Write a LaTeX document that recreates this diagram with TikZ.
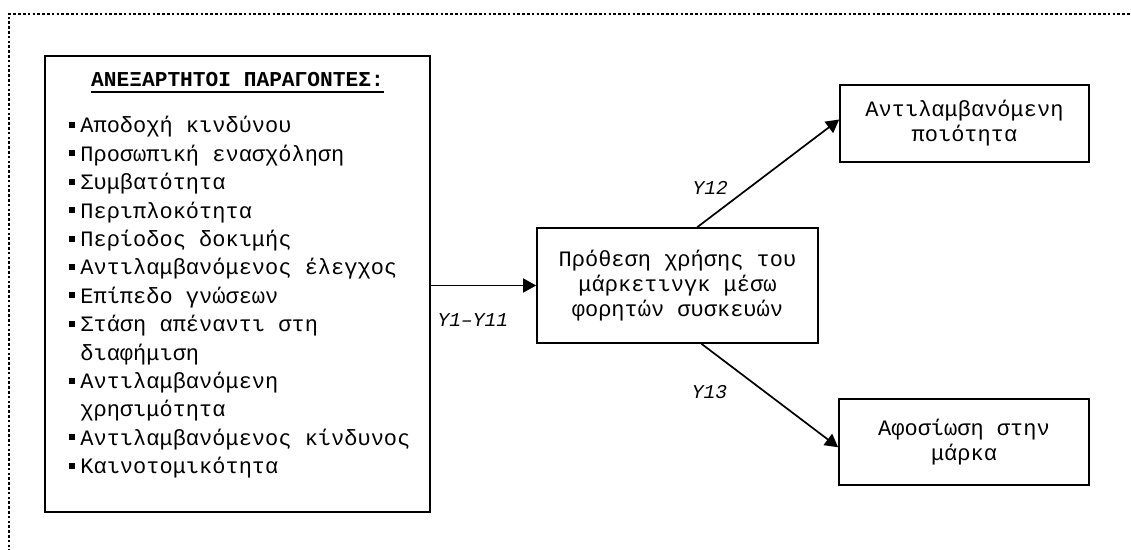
\documentclass[tikz,border=0pt]{standalone}
\usepackage{fontspec}
\setmonofont{Liberation Mono}
\usetikzlibrary{arrows.meta,positioning,calc}
\tikzset{
    every node/.style={font=\ttfamily\fontsize{11}{12.5}\selectfont},
    box/.style={draw,line width=0.85pt,align=center,inner sep=0pt},
    arr/.style={line width=0.85pt,-{Triangle[length=6.5pt,width=7pt]}},
    lbl/.style={font=\ttfamily\itshape\fontsize{9.8}{11}\selectfont,inner sep=0pt},
    item/.style={anchor=base west,inner sep=0pt},
    frame/.style={line width=1.3pt,dash pattern=on 1.3pt off 1.1pt}
}
\newcommand{\blt}{\llap{\rule[2.5pt]{3.4pt}{3pt}\hspace{2.5pt}}}

\begin{document}
\begin{tikzpicture}[x=0.5pt,y=-0.5pt]
  \useasboundingbox (0,0) rectangle (1131,550);
  \clip (0,0) rectangle (1131,550);
  % dotted frame, cut at the page edge
  \draw[frame] (9,600) -- (9,14) -- (1200,14);

  % boxes
  \node[box, minimum width=192.5pt, minimum height=228pt] (factors) at (237.5,284) {};
  \node[box, minimum width=140.5pt, minimum height=57.5pt] (intent) at (677.5,285.5)
    {Πρόθεση χρήσης του\\μάρκετινγκ μέσω\\φορητών συσκευών};
  \node[box, minimum width=124.5pt, minimum height=38.5pt] (quality) at (964.5,123.5)
    {Αντιλαμβανόμενη\\ποιότητα};
  \node[box, minimum width=125pt, minimum height=43pt] (loyalty) at (964,442)
    {Αφοσίωση στην\\μάρκα};

  % list of factors
  \node[anchor=base, inner sep=0pt, font=\ttfamily\bfseries\fontsize{10.6}{12}\selectfont]
    (title) at (237.5,87) {ΑΝΕΞΑΡΤΗΤΟΙ ΠΑΡΑΓΟΝΤΕΣ:};
  \draw[line width=1.1pt] ([yshift=-2.5pt]title.base west) -- ([yshift=-2.5pt]title.base east);
  \foreach \txt/\b [count=\i] in {Αποδοχή κινδύνου/1, Προσωπική ενασχόληση/1,
      Συμβατότητα/1, Περιπλοκότητα/1, Περίοδος δοκιμής/1,
      Αντιλαμβανόμενος έλεγχος/1, Επίπεδο γνώσεων/1, Στάση απέναντι στη/1,
      διαφήμιση/0, Αντιλαμβανόμενη/1, χρησιμότητα/0,
      Αντιλαμβανόμενος κίνδυνος/1, Καινοτομικότητα/1}
    \node[item] (f\i) at (80,{133+28.4*(\i-1)}) {\ifnum\b=1\blt\fi\txt};

  % connectors
  \draw[arr] (factors.east |- intent.west)
    -- node[lbl, pos=0.4, anchor=base, yshift=-20.75pt] (y1) {Y1–Y11} (intent.west);

  \coordinate (qs) at ($(intent.north west)!0.57!(intent.north east)$);
  \coordinate (qe) at ($(quality.north west)!0.45!(quality.south west)$);
  \draw[arr] (qs) -- node[lbl, pos=0.30, anchor=base east, xshift=-5.5pt] (y12) {Y12} (qe);

  \coordinate (ls) at ($(intent.south west)!0.585!(intent.south east)$);
  \coordinate (le) at ($(loyalty.north west)!0.56!(loyalty.south west)$);
  \draw[arr] (ls) -- node[lbl, pos=0.53, anchor=base east, xshift=-23pt] (y13) {Y13} (le);
\end{tikzpicture}
\end{document}
